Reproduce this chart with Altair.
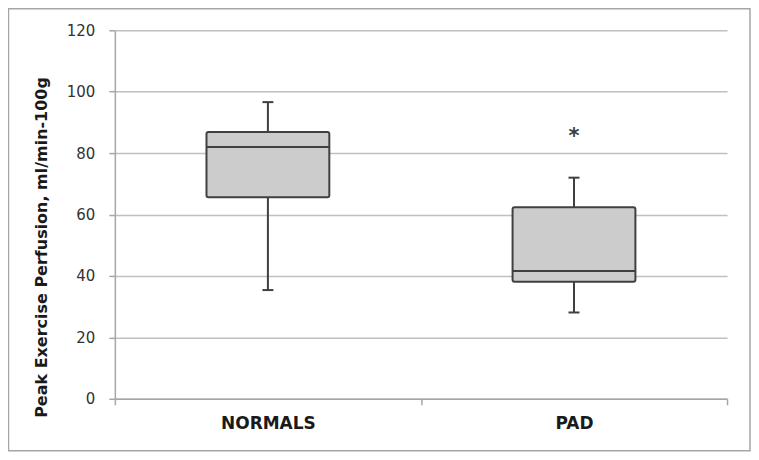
import altair as alt
import pandas as pd

groups = ["NORMALS", "PAD"]
whisker_low = [35.4, 28.1]
q1 = [65.6, 38.1]
median = [82.0, 41.6]
q3 = [86.9, 62.4]
whisker_high = [96.6, 72.0]
marker_label = ["", "*"]
marker_value = [None, 86.5]
y_ticks = [0, 20, 40, 60, 80, 100, 120]

df = pd.DataFrame({
    "group": groups,
    "lo": whisker_low,
    "q1": q1,
    "med": median,
    "q3": q3,
    "hi": whisker_high,
})
stars = pd.DataFrame({"group": groups, "label": marker_label, "v": marker_value}).dropna()

W, H = 613, 369
DARK = "#404040"

x_enc = alt.X(
    "group:N",
    sort=groups,
    scale=alt.Scale(paddingInner=0, paddingOuter=0),
    axis=alt.Axis(
        title=None, labelAngle=0, tickBand="extent", grid=False,
        domainColor="#a6a6a6", domainWidth=1.5, tickColor="#a6a6a6", tickWidth=1.5,
        tickSize=6, labelPadding=11, labelFont="DejaVu Sans", labelFontSize=17,
        labelFontWeight="bold", labelColor="#1a1a1a",
    ),
)
y_scale = alt.Scale(domain=[0, 120], nice=False, zero=True)
y_axis = alt.Axis(
    title="Peak Exercise Perfusion, ml/min-100g", values=y_ticks, grid=True,
    gridColor="#c0c0c0", gridWidth=1.5,
    domainColor="#a6a6a6", domainWidth=1.5, tickColor="#a6a6a6", tickWidth=1.5,
    tickSize=6, labelPadding=14, labelFont="DejaVu Sans", labelFontSize=15,
    labelColor="#333333", titleFont="DejaVu Sans", titleFontSize=16,
    titleFontWeight="bold", titleColor="#1a1a1a", titleAngle=-90,
    titleX=-68, titleY=217, titleBaseline="alphabetic", titleAlign="center",
)

base = alt.Chart(df)

lower = base.mark_rule(color=DARK, strokeWidth=2).encode(
    x=x_enc, y=alt.Y("lo:Q", scale=y_scale, axis=y_axis), y2="q1:Q")
upper = base.mark_rule(color=DARK, strokeWidth=2).encode(
    x=x_enc, y=alt.Y("q3:Q", scale=y_scale, axis=y_axis), y2="hi:Q")
box = base.mark_bar(size=123, fill="#cccccc", stroke=DARK, strokeWidth=2,
                    cornerRadius=2).encode(
    x=x_enc, y=alt.Y("q1:Q", scale=y_scale, axis=y_axis), y2="q3:Q")
med = base.mark_tick(size=123, thickness=2, color=DARK, opacity=1).encode(
    x=x_enc, y=alt.Y("med:Q", scale=y_scale, axis=y_axis))
cap_lo = base.mark_tick(size=11, thickness=2, color=DARK, opacity=1).encode(
    x=x_enc, y=alt.Y("lo:Q", scale=y_scale, axis=y_axis))
cap_hi = base.mark_tick(size=11, thickness=2, color=DARK, opacity=1).encode(
    x=x_enc, y=alt.Y("hi:Q", scale=y_scale, axis=y_axis))
star = alt.Chart(stars).mark_text(font="DejaVu Sans", fontSize=21, fontWeight="bold",
                                  color=DARK, baseline="alphabetic", dy=10).encode(
    x=x_enc, y=alt.Y("v:Q", scale=y_scale, axis=y_axis), text="label:N")

border = alt.Chart(pd.DataFrame({"k": [0]})).mark_rect(
    fill="transparent", stroke="#a6a6a6", strokeWidth=1.5).encode(
    x=alt.value(-106.5), x2=alt.value(636), y=alt.value(-21.5), y2=alt.value(421))

chart = alt.layer(border, lower, upper, box, med, cap_lo, cap_hi, star).properties(
    width=W, height=H,
    autosize=alt.AutoSizeParams(type="none"),
    padding={"left": 107, "top": 22, "right": 24, "bottom": 53},
    background="white",
).configure_view(strokeWidth=0)

chart.save("out.html", embed_options={"renderer": "svg", "actions": False})
